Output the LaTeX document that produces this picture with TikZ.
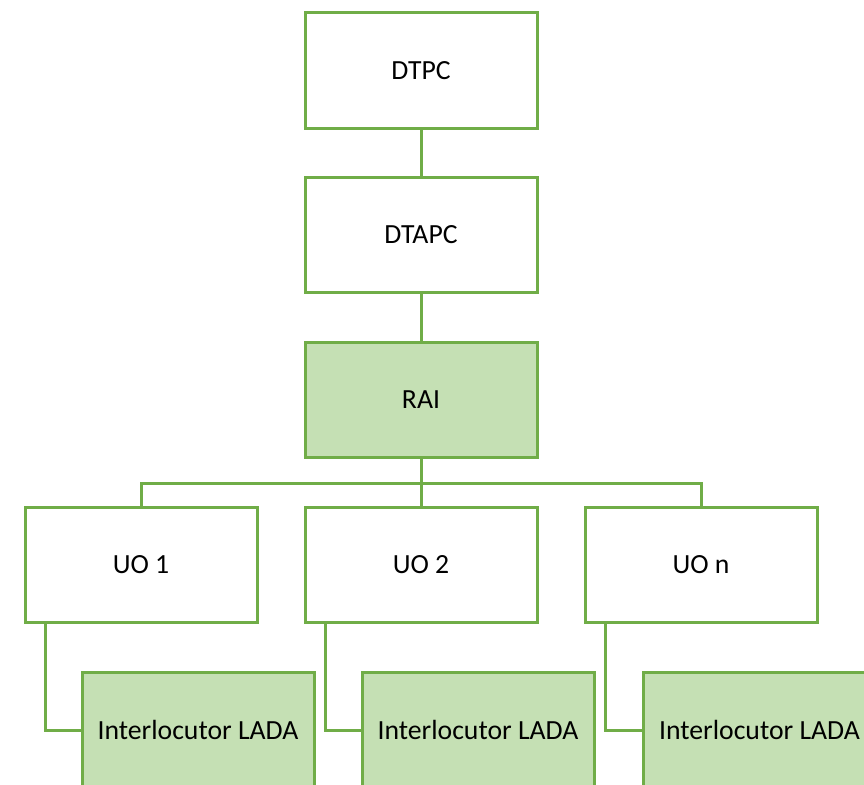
\documentclass[tikz,border=0pt]{standalone}
\usepackage{fontspec}
\setmainfont{Carlito}
\definecolor{gline}{HTML}{70AD47}
\definecolor{gfill}{HTML}{C5E0B4}
\begin{document}
\begin{tikzpicture}[x=1pt,y=-1pt,
  box/.style={draw=gline,line width=3pt,fill=white,minimum width=232pt,minimum height=115pt,inner sep=0pt,font=\fontsize{27.7}{33}\selectfont,text=black},
  gbox/.style={box,fill=gfill},
  conn/.style={draw=gline,line width=3pt}]
\useasboundingbox (0,0) rectangle (864,784);
\clip (0,0) rectangle (864,784);
\fill[white] (0,0) rectangle (864,784);
\node[box]  (dtpc)  at (421,70.5) {DTPC};
\node[box]  (dtapc) at (421,235) {DTAPC};
\node[gbox] (rai)   at (421,400) {RAI};
\node[box]  (uo1)   at (141,565) {UO 1};
\node[box]  (uo2)   at (421,565) {UO 2};
\node[box]  (uon)   at (701,565) {UO n};
\node[gbox] (l1)    at (198,730) {Interlocutor LADA};
\node[gbox] (l2)    at (478,730) {Interlocutor LADA};
\node[gbox] (l3)    at (759.5,730) {Interlocutor LADA};
\coordinate (bus) at (421,483);
\draw[conn] (dtpc.south) -- (dtapc.north);
\draw[conn] (dtapc.south) -- (rai.north);
\draw[conn] (rai.south) -- (uo2.north);
\draw[conn] (uo1.north) |- (bus) -| (uon.north);
\draw[conn] ([xshift=22pt]uo1.south west) |- (l1.west);
\draw[conn] ([xshift=22pt]uo2.south west) |- (l2.west);
\draw[conn] ([xshift=22pt]uon.south west) |- (l3.west);
\end{tikzpicture}
\end{document}
